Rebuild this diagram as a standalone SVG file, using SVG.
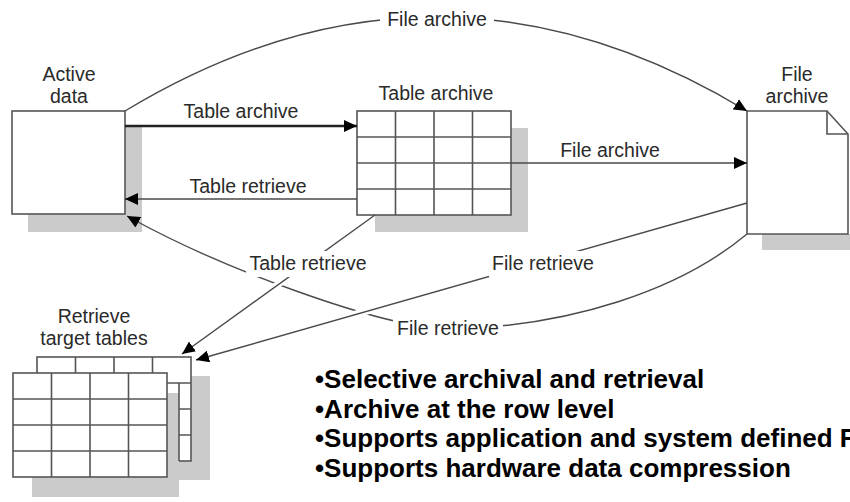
<svg xmlns="http://www.w3.org/2000/svg" width="850" height="502" viewBox="0 0 850 502">
  <style>
    .lbl { font-family: "Liberation Sans", Arial, sans-serif; font-size: 19.5px; fill: #2a2a2a; text-anchor: middle; }
    .bul { font-family: "Liberation Sans", Arial, sans-serif; font-size: 26px; font-weight: bold; fill: #000; }
    .shadow { fill: #cbcbcb; }
    .box { fill: #fff; stroke: #555; stroke-width: 1.6; }
    .cell { fill: #fff; stroke: #555; stroke-width: 1.6; }
    .gridline { fill: none; stroke: #555; stroke-width: 1.6; }
    .conn { fill: none; stroke: #4a4a4a; stroke-width: 1.4; }
    .bold { stroke: #222; stroke-width: 2.6; }
    .halo { fill: none; stroke: #fff; stroke-width: 7; }
    .bg { fill: #fff; }
  </style>
  <defs>
    <marker id="arrow" markerUnits="userSpaceOnUse" markerWidth="14" markerHeight="12" refX="13" refY="6" orient="auto">
      <path d="M0,0 L13,6 L0,12 Z" fill="#000"/>
    </marker>
    <!-- 4 x 4 table grid, 154 x 104 -->
    <g id="tbl">
      <rect width="154" height="104" class="cell"/>
      <path class="gridline" d="M38.5,0V104M77,0V104M115.5,0V104M0,26H154M0,52H154M0,78H154"/>
    </g>
  </defs>

  <rect width="850" height="502" fill="#fff"/>

  <!-- Active data -->
  <g id="active-data">
    <rect class="shadow" x="28" y="127" width="114" height="105"/>
    <rect class="box" x="12" y="111" width="113" height="103"/>
    <text class="lbl" x="69" y="81">Active</text>
    <text class="lbl" x="69" y="103">data</text>
  </g>

  <!-- Table archive -->
  <g id="table-archive">
    <rect class="shadow" x="375" y="128" width="153" height="104"/>
    <use href="#tbl" x="357" y="111"/>
    <text class="lbl" x="436" y="100">Table archive</text>
  </g>

  <!-- File archive document -->
  <g id="file-archive">
    <rect class="shadow" x="762" y="234" width="88" height="16"/>
    <path class="box" d="M747,111 H827 L848,134 V234 H747 Z"/>
    <path class="gridline" d="M827,111 V134 H848"/>
    <text class="lbl" x="797" y="81">File</text>
    <text class="lbl" x="797" y="103">archive</text>
  </g>

  <!-- Retrieve target tables -->
  <g id="retrieve-target-tables">
    <rect class="shadow" x="56" y="376" width="154" height="104"/>
    <use href="#tbl" x="37" y="357"/>
    <rect class="shadow" x="32" y="393" width="147" height="104"/>
    <path class="gridline" d="M179,383 V461"/>
    <use href="#tbl" x="13" y="373"/>
    <text class="lbl" x="94" y="323">Retrieve</text>
    <text class="lbl" x="94" y="345">target tables</text>
  </g>

  <!-- Connectors -->
  <g id="connectors">
    <!-- file archive arc over the top -->
    <path class="conn" d="M125,111 Q436,-77 747,111" marker-end="url(#arrow)"/>
    <!-- table archive / table retrieve -->
    <path class="conn bold" d="M125,126 H357" marker-end="url(#arrow)"/>
    <path class="conn" d="M357,199 H125" marker-end="url(#arrow)"/>
    <!-- file archive, table to file -->
    <path class="conn" d="M511,163 H747" marker-end="url(#arrow)"/>
    <!-- file retrieve back to active data -->
    <path class="conn" d="M747,234 C680,290 570,327 448,329 C380,327 220,268 127,216" marker-end="url(#arrow)"/>
    <!-- crossings cut the curve beneath -->
    <path class="halo" d="M300,269 L270,290"/>
    <path class="halo" d="M378,308 L345,317"/>
    <!-- table retrieve to target tables -->
    <path class="conn" d="M375,215 L182,354" marker-end="url(#arrow)"/>
    <!-- file retrieve to target tables -->
    <path class="conn" d="M747,203 L196,360" marker-end="url(#arrow)"/>

    <!-- label backgrounds on the lines -->
    <rect class="bg" x="380" y="8" width="114" height="25"/>
    <rect class="bg" x="246" y="251" width="124" height="26"/>
    <rect class="bg" x="489" y="251" width="108" height="26"/>
    <rect class="bg" x="393" y="316" width="110" height="26"/>

    <text class="lbl" x="437" y="26">File archive</text>
    <text class="lbl" x="241" y="118">Table archive</text>
    <text class="lbl" x="248" y="193">Table retrieve</text>
    <text class="lbl" x="610" y="157">File archive</text>
    <text class="lbl" x="308" y="270">Table retrieve</text>
    <text class="lbl" x="543" y="270">File retrieve</text>
    <text class="lbl" x="448" y="335">File retrieve</text>
  </g>

  <!-- Feature notes -->
  <g id="notes">
    <text class="bul" x="315" y="388">•Selective archival and retrieval</text>
    <text class="bul" x="315" y="418">•Archive at the row level</text>
    <text class="bul" x="315" y="447">•Supports application and system defined F</text>
    <text class="bul" x="315" y="477">•Supports hardware data compression</text>
  </g>
</svg>
